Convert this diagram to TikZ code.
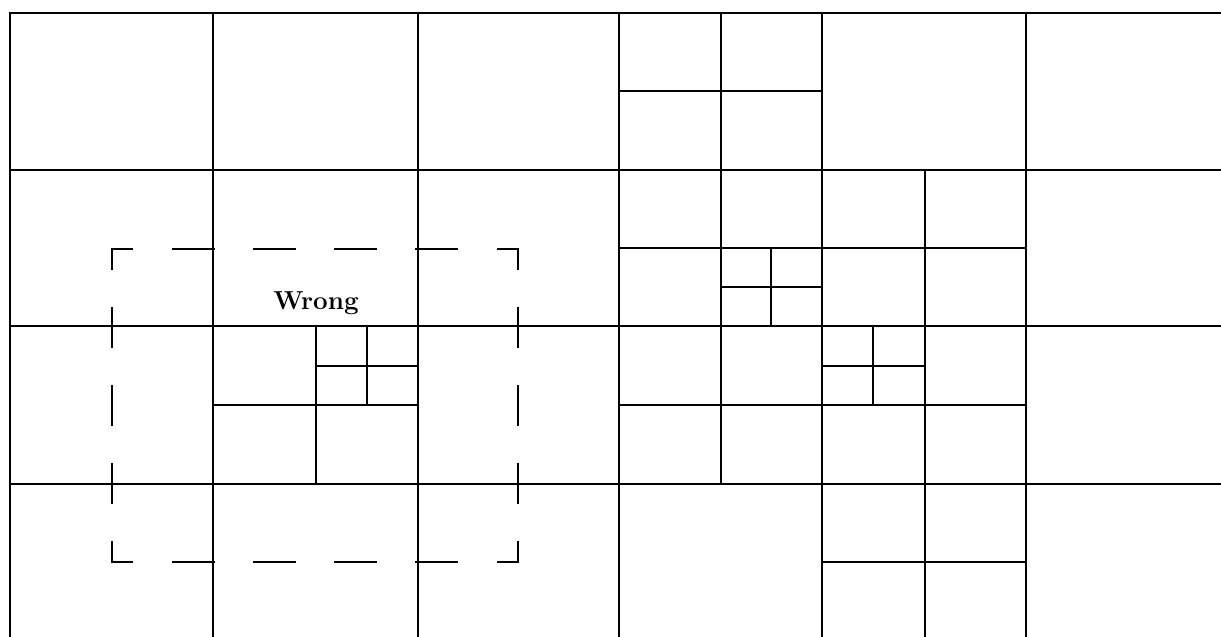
\documentclass[tikz,border=0pt]{standalone}
\usepackage{tikz}

\begin{document}
\begin{tikzpicture}[x=1pt, y=-1pt,
    grid/.style={line width=2.6pt},
    split/.style={line width=2.4pt},
    dashh/.style={line width=2.1pt, line cap=rect, dash pattern=on 40.6pt off 40.6pt, dash phase=20.3pt},
    dashv/.style={line width=2.1pt, line cap=rect, dash pattern=on 39.1pt off 39.1pt, dash phase=19.6pt}]
  \useasboundingbox (0,0) rectangle (1221,637);
  % coarse cells
  \draw[grid] (10,637) -- (10,13) -- (1221,13);
  \foreach \y in {170,326,484} \draw[grid] (10,\y) -- (1221,\y);
  \foreach \x in {213,418,619,822,1026} \draw[grid] (\x,13) -- (\x,637);
  % refined cells, right part
  \draw[split] (721,13) -- (721,484) (925,170) -- (925,637);
  \draw[split] (619,91) -- (822,91) (619,248) -- (1026,248) (619,405) -- (1026,405) (822,562) -- (1026,562);
  \draw[split] (771,248) -- (771,326) (721,287) -- (822,287);
  \draw[split] (873,326) -- (873,405) (822,366) -- (925,366);
  % refined cells, left part
  \draw[split] (316,326) -- (316,484) (213,405) -- (418,405);
  \draw[split] (367,326) -- (367,405) (316,366) -- (418,366);
  % neighbourhood box
  \coordinate (nw) at (112,249);
  \coordinate (ne) at (518,249);
  \coordinate (se) at (518,562);
  \coordinate (sw) at (112,562);
  \draw[dashh] (nw) -- (ne);
  \draw[dashh] (sw) -- (se);
  \draw[dashv] (nw) -- (sw);
  \draw[dashv] (ne) -- (se);
  \node[anchor=base, font=\fontsize{26}{26}\selectfont\bfseries, inner sep=0pt] (wrong) at (316,309) {Wrong};
\end{tikzpicture}
\end{document}
